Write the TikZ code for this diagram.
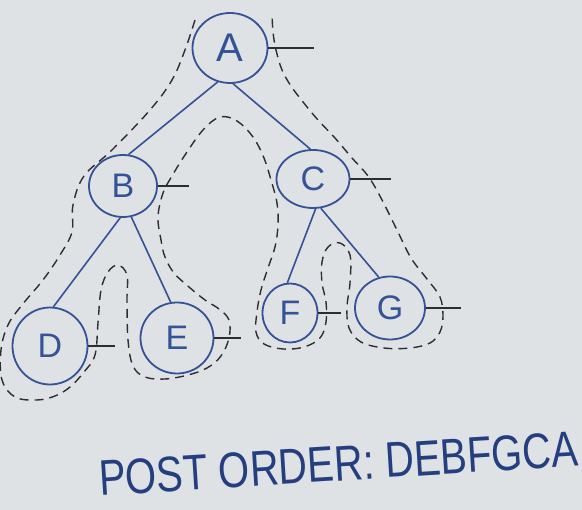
\documentclass[tikz,border=0pt]{standalone}
\usepackage{fontspec}
\setmainfont{Liberation Sans}
\usetikzlibrary{shapes.geometric}
\definecolor{penblue}{RGB}{52,82,150}
\definecolor{inkblue}{RGB}{36,62,128}
\definecolor{paper}{RGB}{222,226,229}
\definecolor{pencil}{RGB}{45,45,50}
\tikzset{%
    Tnode/.style={shape=ellipse, draw=penblue, line width=1.8pt, inner sep=0pt,
        text=penblue, font=\fontsize{34}{36}\selectfont},
    Tedge/.style={draw=penblue, line width=1.6pt},
    Ttick/.style={draw=pencil, line width=1.5pt},
    Ttour/.style={draw=pencil, line width=1.4pt, dash pattern=on 9pt off 6pt}
}

\begin{document}
\begin{tikzpicture}[x=1pt,y=-1pt]
    % paper
    \fill[paper] (0,0) rectangle (582,510);
    \useasboundingbox (0,0) rectangle (582,510);

    % tree nodes
    \node[Tnode, minimum width=75, minimum height=70, font=\fontsize{40}{42}\selectfont] (A) at (230,48) {A};
    \node[Tnode, minimum width=68, minimum height=62] (B) at (123,186) {B};
    \node[Tnode, minimum width=73, minimum height=58] (C) at (313,179) {C};
    \node[Tnode, minimum width=75, minimum height=77] (D) at (50,346) {D};
    \node[Tnode, minimum width=73, minimum height=71] (E) at (177,338) {E};
    \node[Tnode, minimum width=55, minimum height=59] (F) at (290,313) {F};
    \node[Tnode, minimum width=70, minimum height=63] (G) at (390,308) {G};

    % branches
    \draw[Tedge] (A.250) -- (B.80);
    \draw[Tedge] (A.275) -- (C.95);
    \draw[Tedge] (B.265) -- (D.85);
    \draw[Tedge] (B.285) -- (E.100);
    \draw[Tedge] (C.275) -- (F.95);
    \draw[Tedge] (C.285) -- (G.110);

    % post order marks
    \foreach \n/\dx in {A/46, B/31, C/41, D/27, E/27, F/23, G/35}
        \draw[Ttick] (\n.east) -- ++(\dx,0);

    % walk round the tree
    \draw[Ttour] plot[smooth, tension=0.6] coordinates {
        (195,20) (185,50) (172,80) (150,110) (112,150) (84,176) (73,205)
        (72,232) (60,255) (43,280) (22,305) (8,325) (1,350) (2,380)
        (15,397) (37,400) (55,396) (70,387) (84,372) (95,355) (98,323)
        (101,290) (108,272) (118,265) (127,275) (127,300) (128,340)
        (133,366) (145,377) (165,379) (188,375) (207,368) (221,356)
        (229,338) (229,320) (219,309) (205,300) (189,287) (174,273)
        (165,257) (161,240) (158,217) (163,193) (172,176) (185,155)
        (203,130) (220,117) (237,121) (253,137) (264,158) (271,180)
        (277,203) (278,225) (275,247) (268,268) (261,290) (257,312)
        (256,332) (264,344) (283,349) (304,347) (320,338) (326,322)
        (326,302) (322,283) (322,262) (328,247) (340,243) (350,255)
        (350,283) (347,307) (349,328) (361,342) (384,348) (410,348)
        (430,343) (440,332) (443,316) (440,297) (427,279) (411,258)
        (397,230) (381,198) (368,176) (352,158) (335,138) (318,120)
        (303,102) (291,86) (282,70) (276,50) (273,32) (272,13)};

    % result
    \node[anchor=base west, rotate=3.6, yscale=1.25, text=inkblue,
        font=\fontsize{40}{40}\selectfont, inner sep=0pt] (postorder) at (100,496)
        {POST ORDER: DEBFGCA};
\end{tikzpicture}
\end{document}
